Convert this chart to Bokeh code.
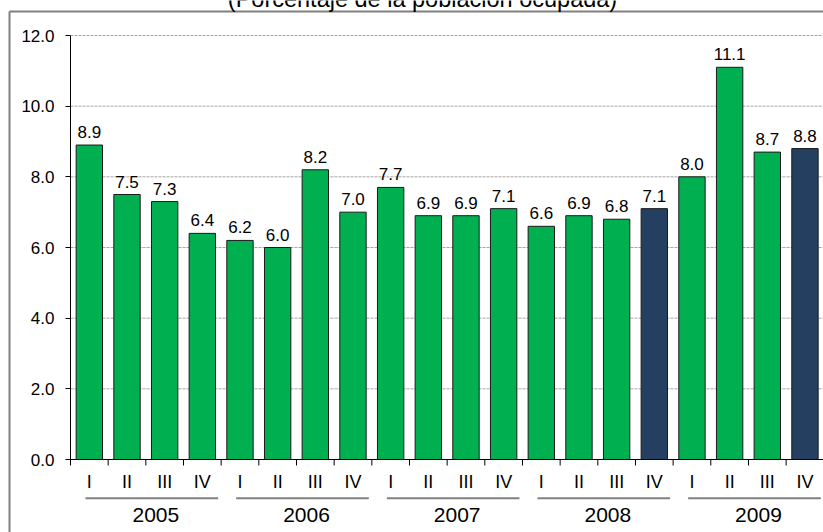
from bokeh.plotting import figure
from bokeh.models import Range1d, FixedTicker, NumeralTickFormatter
from bokeh.embed import file_html
from bokeh.resources import INLINE
from bokeh.core.properties import value

# ---------------- data ----------------
title_text = "(Porcentaje de la población ocupada)"
years = ["2005", "2006", "2007", "2008", "2009"]
quarters = ["I", "II", "III", "IV"]
values = [8.9, 7.5, 7.3, 6.4,
          6.2, 6.0, 8.2, 7.0,
          7.7, 6.9, 6.9, 7.1,
          6.6, 6.9, 6.8, 7.1,
          8.0, 11.1, 8.7, 8.8]
highlight = [False, False, False, False,
             False, False, False, False,
             False, False, False, False,
             False, False, False, True,
             False, False, False, True]
y_ticks = [0, 2, 4, 6, 8, 10, 12]

# ---------------- styling / layout ----------------
GREEN = "#00B050"
NAVY = "#243F60"
FONT = "Liberation Sans"

W, H = 823, 532
X0_PX = 70.0            # pixel of x = 0
Y0_PX = 459.0           # pixel of y = 0
PX_X = 753.3 / 20       # pixels per category
PX_Y = 424.0 / 12       # pixels per unit

x_start = -X0_PX / PX_X
x_end = x_start + W / PX_X
y_end = Y0_PX / PX_Y
y_start = -(H - Y0_PX) / PX_Y


def px_x(px):
    return (px - X0_PX) / PX_X


def px_y(px):
    return (Y0_PX - px) / PX_Y


def below(px):
    return -px / PX_Y


n = len(values)
centers = [i + 0.5 for i in range(n)]
colors = [NAVY if h else GREEN for h in highlight]
labels = [f"{v:.1f}" for v in values]
q_labels = [quarters[i % 4] for i in range(n)]

p = figure(width=W, height=H, output_backend="svg", toolbar_location=None,
           x_axis_location=None,
           x_range=Range1d(x_start, x_end), y_range=Range1d(y_start, y_end),
           min_border_left=0, min_border_right=0,
           min_border_top=0, min_border_bottom=0)
p.border_fill_color = "white"
p.background_fill_color = "white"
p.outline_line_color = None
p.xgrid.visible = False
p.ygrid.visible = False

# outer chart box (left and top edges visible in the window)
p.segment(x0=[px_x(9), px_x(9)], y0=[px_y(11), px_y(11)],
          x1=[px_x(9), x_end + 1], y1=[y_start - 1, px_y(11)],
          line_color="#808080", line_width=2)

# horizontal gridlines
grid_ticks = y_ticks[1:]
p.segment(x0=[0] * len(grid_ticks), y0=grid_ticks, x1=[x_end + 1] * len(grid_ticks),
          y1=grid_ticks, line_color="#A6A6A6", line_dash="3 1", line_width=1)

# y axis drawn at x = 0 inside the frame
ax = p.yaxis[0]
ax.fixed_location = 0
ax.ticker = FixedTicker(ticks=y_ticks)
ax.formatter = NumeralTickFormatter(format="0.0")
ax.axis_line_color = None
ax.major_tick_out = 5
ax.major_tick_in = 0
ax.major_tick_line_color = "black"
ax.minor_tick_line_color = None
ax.major_label_standoff = 11
ax.major_label_text_font = FONT
ax.major_label_text_font_size = "17px"
ax.major_label_text_color = "black"

# bars
p.vbar(x=centers, top=values, bottom=0, width=0.7,
       fill_color=colors, line_color="#1a1a1a", line_width=1)

# value labels
p.text(x=centers, y=values, text=labels, text_align="center",
       text_baseline="alphabetic", y_offset=-13,
       text_font=value(FONT), text_font_size="17px", text_color="black")

# axis lines
p.segment(x0=[0, 0], y0=[0, 0], x1=[0, n], y1=[y_ticks[-1], 0],
          line_color="black", line_width=1)
# category boundary ticks
p.segment(x0=list(range(n + 1)), y0=[0] * (n + 1), x1=list(range(n + 1)),
          y1=[below(6)] * (n + 1), line_color="black", line_width=1)

# quarter labels
p.text(x=centers, y=[below(22.5)] * n, text=q_labels, text_align="center",
       text_baseline="middle", text_font=value(FONT), text_font_size="18px",
       text_color="black")

# year underlines and labels
g0 = [4 * i + 15 / PX_X for i in range(len(years))]
g1 = [4 * i + 4 - 3 / PX_X for i in range(len(years))]
p.segment(x0=g0, y0=[below(38.7)] * len(years), x1=g1, y1=[below(38.7)] * len(years),
          line_color="#808080", line_width=2)
p.text(x=[4 * i + 2 + 10 / PX_X for i in range(len(years))], y=[below(55)] * len(years),
       text=years, text_align="center", text_baseline="middle",
       text_font=value(FONT), text_font_size="21px", text_color="black")

# title (mostly above the visible window in the reference)
p.text(x=[px_x(422)], y=[px_y(8)], text=[title_text],
       text_align="center", text_baseline="alphabetic", y_offset=-10,
       text_font=value(FONT), text_font_size="23.5px", text_color="black")

open("out.html", "w").write(file_html(p, INLINE))
